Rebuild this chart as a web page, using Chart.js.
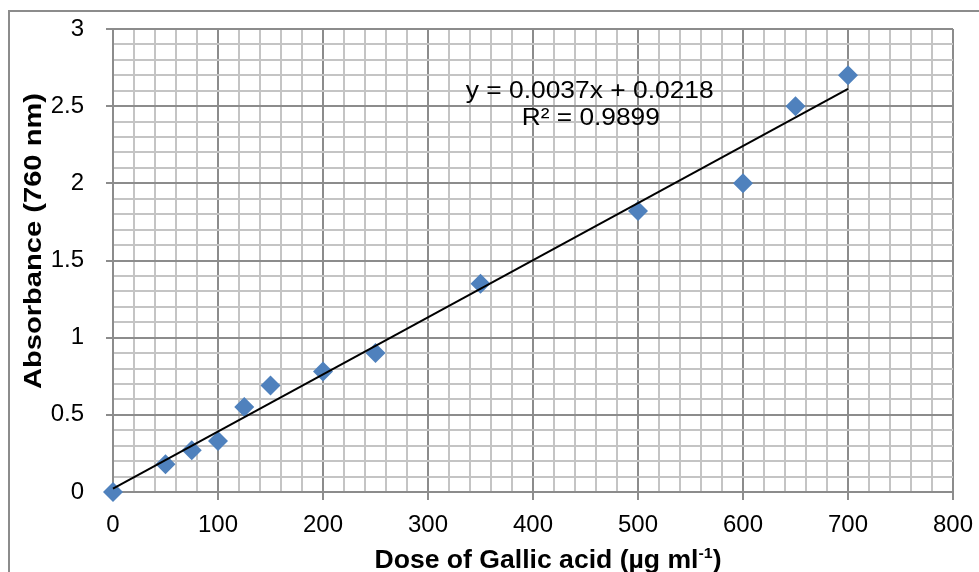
<!DOCTYPE html>
<html>
<head>
<meta charset="utf-8">
<script src="https://cdn.jsdelivr.net/npm/chart.js@4.4.1/dist/chart.umd.min.js"></script>
<style>
  html, body { margin: 0; padding: 0; background: #fff; }
  #wrap { width: 979px; height: 572px; }
</style>
</head>
<body>
<div id="wrap"><canvas id="chart" width="979" height="572"></canvas></div>
<script>
// Measured points (dose in µg/ml, absorbance at 760 nm)
const doseValues = [0, 50, 75, 100, 125, 150, 200, 250, 350, 500, 600, 650, 700];
const absorbanceValues = [0, 0.18, 0.27, 0.33, 0.55, 0.69, 0.78, 0.90, 1.35, 1.82, 2.00, 2.50, 2.70];

// Linear trendline ends, from y = 0.0037x + 0.0218
const trendDose = [0, 700];
const trendAbsorbance = [0.0218, 2.6118];

const xTickLabels = ["0", "100", "200", "300", "400", "500", "600", "700", "800"];
const yTickLabels = ["0", "0.5", "1", "1.5", "2", "2.5", "3"];

const equationLines = ["y = 0.0037x + 0.0218", "R\u00B2 = 0.9899"];
const xTitleMain = "Dose of Gallic acid (\u00B5g ml";
const xTitleSup = "-1";
const xTitleEnd = ")";
const yTitle = "Absorbance (760 nm)";

const FONT = "'Liberation Sans', Arial, sans-serif";
const MAJOR = "#8c8c8c";
const MINOR = "#c4c4c4";

function isMajorX(v) {
  return Math.round(v) % 100 === 0;
}

function isMajorY(v) {
  return Math.round(v * 10) % 5 === 0;
}

// draws text squeezed/stretched along its own direction to a given length
function drawFitted(ctx, text, targetWidth) {
  const w = ctx.measureText(text).width;
  ctx.scale(targetWidth / w, 1);
  ctx.fillText(text, 0, 0);
}

const textPlugin = {
  id: "chartText",
  beforeDraw(chart) {
    const ctx = chart.ctx;
    ctx.save();
    ctx.fillStyle = "#fff";
    ctx.fillRect(0, 0, chart.width, chart.height);
    ctx.strokeStyle = "#8c8c8c";
    ctx.lineWidth = 2;
    ctx.strokeRect(9, 11, chart.width + 20, chart.height + 20);
    ctx.restore();
  },
  afterDraw(chart) {
    const ctx = chart.ctx;
    const xs = chart.scales.x;
    const ys = chart.scales.y;
    ctx.fillStyle = "#000";

    // trendline equation
    ctx.save();
    ctx.font = "24px " + FONT;
    ctx.textAlign = "center";
    ctx.textBaseline = "middle";
    ctx.save();
    ctx.translate(xs.getPixelForValue(454), ys.getPixelForValue(2.598));
    drawFitted(ctx, equationLines[0], 248);
    ctx.restore();
    ctx.save();
    ctx.translate(xs.getPixelForValue(455), ys.getPixelForValue(2.423));
    drawFitted(ctx, equationLines[1], 138);
    ctx.restore();
    ctx.restore();

    // x title with superscript
    ctx.save();
    ctx.textAlign = "left";
    ctx.textBaseline = "alphabetic";
    ctx.font = "bold 25px " + FONT;
    const w1 = ctx.measureText(xTitleMain).width;
    const w3 = ctx.measureText(xTitleEnd).width;
    ctx.font = "bold 15px " + FONT;
    const w2 = ctx.measureText(xTitleSup).width;
    const total = w1 + w2 + w3;
    ctx.translate(548, 568);
    ctx.scale(347 / total, 1);
    let px = -total / 2;
    ctx.font = "bold 25px " + FONT;
    ctx.fillText(xTitleMain, px, 0);
    px += w1;
    ctx.font = "bold 15px " + FONT;
    ctx.fillText(xTitleSup, px, -10);
    px += w2;
    ctx.font = "bold 25px " + FONT;
    ctx.fillText(xTitleEnd, px, 0);
    ctx.restore();

    // y title
    ctx.save();
    ctx.font = "bold 24px " + FONT;
    ctx.textAlign = "center";
    ctx.textBaseline = "alphabetic";
    ctx.translate(41, 241);
    ctx.rotate(-Math.PI / 2);
    drawFitted(ctx, yTitle, 296);
    ctx.restore();
  }
};

const ctx = document.getElementById("chart");

new Chart(ctx, {
  type: "scatter",
  data: {
    datasets: [
      {
        type: "line",
        label: "Linear trend",
        data: trendDose.map((x, i) => ({ x, y: trendAbsorbance[i] })),
        borderColor: "#000",
        borderWidth: 2,
        pointRadius: 0,
        fill: false,
        tension: 0,
        clip: false,
        order: 0
      },
      {
        label: "Absorbance",
        data: doseValues.map((x, i) => ({ x, y: absorbanceValues[i] })),
        pointStyle: "rectRot",
        pointRadius: 10,
        pointHoverRadius: 10,
        backgroundColor: "#4f81bd",
        borderColor: "#4f81bd",
        borderWidth: 0,
        clip: false,
        order: 1
      }
    ]
  },
  options: {
    responsive: false,
    animation: false,
    layout: {
      padding: { top: 29, right: 26, left: 0, bottom: 0 }
    },
    plugins: {
      legend: { display: false },
      tooltip: { enabled: false }
    },
    scales: {
      x: {
        type: "linear",
        min: 0,
        max: 800,
        afterFit: (scale) => {
          scale.height = 80;
          scale.paddingLeft = 0;
          scale.paddingRight = 0;
        },
        grid: {
          color: (c) => (isMajorX(c.tick.value) ? MAJOR : MINOR),
          tickColor: (c) => (isMajorX(c.tick.value) ? MAJOR : "rgba(0,0,0,0)"),
          lineWidth: 2,
          tickLength: 8
        },
        border: { display: true, color: MAJOR, width: 2 },
        ticks: {
          stepSize: 20,
          autoSkip: false,
          maxRotation: 0,
          padding: 11,
          color: "#000",
          font: { family: FONT, size: 24 },
          callback: (v) => (isMajorX(v) ? xTickLabels[Math.round(v / 100)] : "")
        }
      },
      y: {
        type: "linear",
        min: 0,
        max: 3,
        afterFit: (scale) => {
          scale.width = 113;
          scale.paddingTop = 0;
          scale.paddingBottom = 0;
        },
        grid: {
          color: (c) => (isMajorY(c.tick.value) ? MAJOR : MINOR),
          tickColor: (c) => (isMajorY(c.tick.value) ? MAJOR : "rgba(0,0,0,0)"),
          lineWidth: 2,
          tickLength: 7
        },
        border: { display: true, color: MAJOR, width: 2 },
        ticks: {
          stepSize: 0.1,
          autoSkip: false,
          padding: 22,
          color: "#000",
          font: { family: FONT, size: 24 },
          callback: (v) => (isMajorY(v) ? yTickLabels[Math.round(v * 2)] : "")
        }
      }
    }
  },
  plugins: [textPlugin]
});
</script>
</body>
</html>
